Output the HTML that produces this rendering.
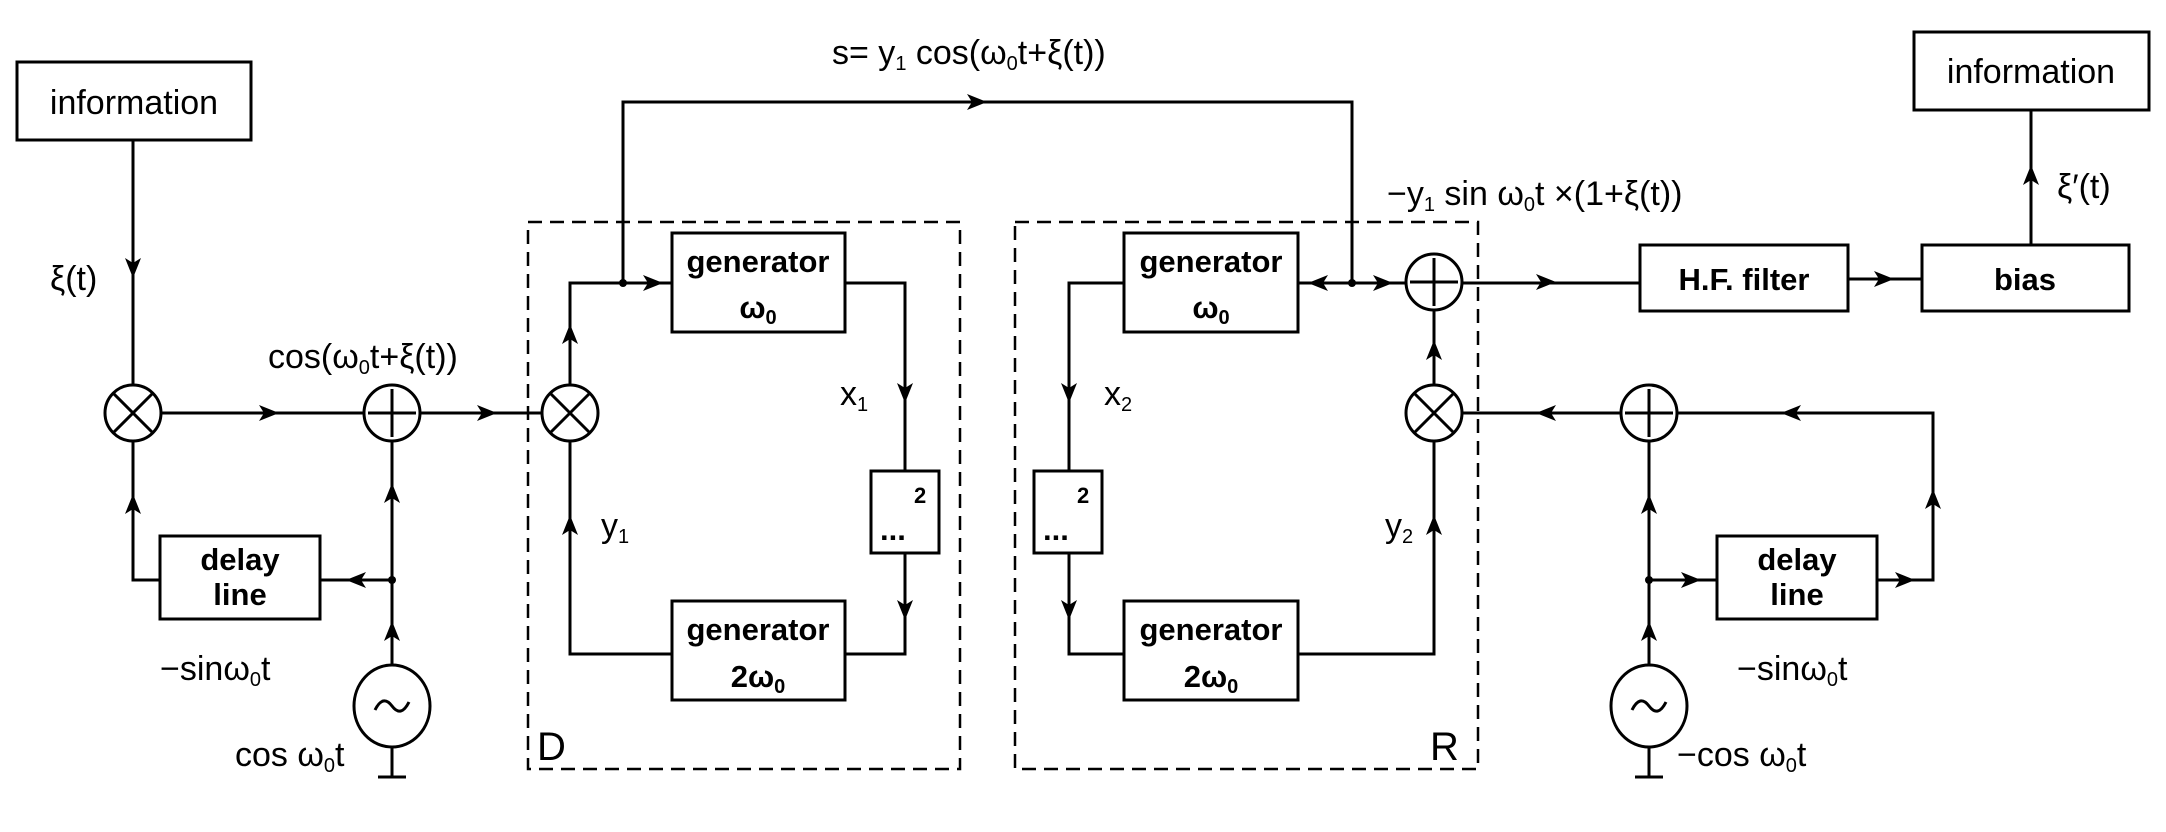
<!DOCTYPE html>
<html><head><meta charset="utf-8"><style>
html,body{margin:0;padding:0;background:#fff;}
svg{display:block;}
text{font-family:"Liberation Sans",Arial,sans-serif;fill:#000;}
.b{font-weight:bold;font-size:31px;}
.l{font-size:34px;}
</style></head><body>
<svg width="2166" height="832" viewBox="0 0 2166 832" xmlns="http://www.w3.org/2000/svg">
<g fill="none" stroke="#000" stroke-width="3">
<rect x="17" y="62" width="234" height="78"/>
<rect x="1914" y="32" width="235" height="78"/>
<rect x="672" y="233" width="173" height="99"/>
<rect x="672" y="601" width="173" height="99"/>
<rect x="1124" y="233" width="174" height="99"/>
<rect x="1124" y="601" width="174" height="99"/>
<rect x="871" y="471" width="68" height="82"/>
<rect x="1034" y="471" width="68" height="82"/>
<rect x="160" y="536" width="160" height="83"/>
<rect x="1717" y="536" width="160" height="83"/>
<rect x="1640" y="245" width="208" height="66"/>
<rect x="1922" y="245" width="207" height="66"/>
<rect x="528" y="222" width="432" height="547" stroke-dasharray="14 8" stroke-width="2.5"/>
<rect x="1015" y="222" width="463" height="547" stroke-dasharray="14 8" stroke-width="2.5"/>
<path d="M133 140V385M161 413H364M420 413H542M133 441V580H160M320 580H392M392 441V666M392 746V777M378 777H406"/>
<path d="M570 385V283H672M623 283V102H1352V283M845 283H905V471M905 553V654H845M672 654H570V441"/>
<path d="M1124 283H1069V471M1069 553V654H1124M1298 654H1434V441M1434 385V310M1298 283H1406M1462 283H1640M1848 279H1922M2031 245V110"/>
<path d="M1462 413H1621M1677 413H1933V580H1877M1717 580H1649V441M1649 580V666M1649 746V777M1635 777H1663"/>
<circle cx="133" cy="413" r="28"/><path d="M113 393L153 433M153 393L113 433"/>
<circle cx="392" cy="413" r="28"/><path d="M392 389V437M368 413H416"/>
<circle cx="570" cy="413" r="28"/><path d="M550 393L590 433M590 393L550 433"/>
<circle cx="1434" cy="413" r="28"/><path d="M1414 393L1454 433M1454 393L1414 433"/>
<circle cx="1434" cy="282" r="28"/><path d="M1434 258V306M1410 282H1458"/>
<circle cx="1649" cy="413" r="28"/><path d="M1649 389V437M1625 413H1673"/>
<ellipse cx="392" cy="706" rx="38" ry="41"/>
<ellipse cx="1649" cy="706" rx="38" ry="41"/>
<path d="M375 710q8-16 17-4t17-4" stroke-width="3"/>
<path d="M1632 710q8-16 17-4t17-4" stroke-width="3"/>
</g>
<g fill="#000">
<circle cx="623" cy="283" r="4"/><circle cx="392" cy="580" r="4"/><circle cx="1352" cy="283" r="4"/><circle cx="1649" cy="580" r="4"/>
<path d="M279 413l-20-8 5 8-5 8z"/><path d="M497 413l-20-8 5 8-5 8z"/><path d="M663 283l-20-8 5 8-5 8z"/>
<path d="M987 102l-20-8 5 8-5 8z"/><path d="M1393 283l-20-8 5 8-5 8z"/><path d="M1556 282l-20-8 5 8-5 8z"/>
<path d="M1894 279l-20-8 5 8-5 8z"/><path d="M1701 580l-20-8 5 8-5 8z"/><path d="M1915 580l-20-8 5 8-5 8z"/>
<path d="M346 580l20-8-5 8 5 8z"/><path d="M1308 283l20-8-5 8 5 8z"/><path d="M1536 413l20-8-5 8 5 8z"/><path d="M1781 413l20-8-5 8 5 8z"/>
<path d="M133 278l-8-20 8 5 8-5z"/><path d="M905 403l-8-20 8 5 8-5z"/><path d="M905 620l-8-20 8 5 8-5z"/>
<path d="M1069 403l-8-20 8 5 8-5z"/><path d="M1069 620l-8-20 8 5 8-5z"/>
<path d="M133 494l-8 20 8-5 8 5z"/><path d="M392 483l-8 20 8-5 8 5z"/><path d="M392 621l-8 20 8-5 8 5z"/>
<path d="M570 324l-8 20 8-5 8 5z"/><path d="M570 515l-8 20 8-5 8 5z"/>
<path d="M1434 515l-8 20 8-5 8 5z"/><path d="M1434 340l-8 20 8-5 8 5z"/><path d="M2031 165l-8 20 8-5 8 5z"/>
<path d="M1933 489l-8 20 8-5 8 5z"/><path d="M1649 494l-8 20 8-5 8 5z"/><path d="M1649 621l-8 20 8-5 8 5z"/>
</g>
<text x="134" y="114" class="l" text-anchor="middle" font-size="36">information</text>
<text x="2031" y="83" class="l" text-anchor="middle" font-size="36">information</text>
<text x="758" y="272" class="b" text-anchor="middle">generator</text>
<text x="758" y="318" class="b" text-anchor="middle">ω<tspan font-size="20" dy="6">0</tspan></text>
<text x="758" y="640" class="b" text-anchor="middle">generator</text>
<text x="758" y="687" class="b" text-anchor="middle">2ω<tspan font-size="20" dy="6">0</tspan></text>
<text x="1211" y="272" class="b" text-anchor="middle">generator</text>
<text x="1211" y="318" class="b" text-anchor="middle">ω<tspan font-size="20" dy="6">0</tspan></text>
<text x="1211" y="640" class="b" text-anchor="middle">generator</text>
<text x="1211" y="687" class="b" text-anchor="middle">2ω<tspan font-size="20" dy="6">0</tspan></text>
<text x="240" y="570" class="b" text-anchor="middle">delay</text>
<text x="240" y="605" class="b" text-anchor="middle">line</text>
<text x="1797" y="570" class="b" text-anchor="middle">delay</text>
<text x="1797" y="605" class="b" text-anchor="middle">line</text>
<text x="1744" y="290" class="b" text-anchor="middle" font-size="28">H.F. filter</text>
<text x="2025" y="290" class="b" text-anchor="middle" font-size="28">bias</text>
<text x="914" y="503" font-size="22" font-weight="bold">2</text>
<text x="1077" y="503" font-size="22" font-weight="bold">2</text>
<text x="880" y="540" class="b">...</text>
<text x="1043" y="540" class="b">...</text>
<text x="50" y="290" class="l">ξ(t)</text>
<text x="268" y="368" class="l">cos(ω<tspan font-size="20" dy="6">0</tspan><tspan dy="-6">t+ξ(t))</tspan></text>
<text x="832" y="64" class="l">s= y<tspan font-size="20" dy="6">1</tspan><tspan dy="-6"> cos(ω</tspan><tspan font-size="20" dy="6">0</tspan><tspan dy="-6">t+ξ(t))</tspan></text>
<text x="1387" y="205" class="l">−y<tspan font-size="20" dy="6">1</tspan><tspan dy="-6"> sin ω</tspan><tspan font-size="20" dy="6">0</tspan><tspan dy="-6">t ×(1+ξ(t))</tspan></text>
<text x="2057" y="198" class="l">ξ′(t)</text>
<text x="160" y="680" class="l">−sinω<tspan font-size="20" dy="6">0</tspan><tspan dy="-6">t</tspan></text>
<text x="1737" y="680" class="l">−sinω<tspan font-size="20" dy="6">0</tspan><tspan dy="-6">t</tspan></text>
<text x="235" y="766" class="l">cos ω<tspan font-size="20" dy="6">0</tspan><tspan dy="-6">t</tspan></text>
<text x="1677" y="766" class="l">−cos ω<tspan font-size="20" dy="6">0</tspan><tspan dy="-6">t</tspan></text>
<text x="840" y="405" class="l">x<tspan font-size="20" dy="6">1</tspan></text>
<text x="601" y="537" class="l">y<tspan font-size="20" dy="6">1</tspan></text>
<text x="1104" y="405" class="l">x<tspan font-size="20" dy="6">2</tspan></text>
<text x="1385" y="537" class="l">y<tspan font-size="20" dy="6">2</tspan></text>
<text x="537" y="760" font-size="40">D</text>
<text x="1430" y="760" font-size="40">R</text>
</svg>
</body></html>
